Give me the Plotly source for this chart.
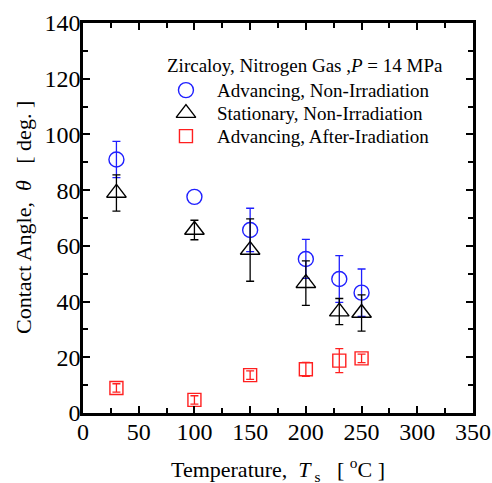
import plotly.graph_objects as go

temps = [30, 100, 150, 200, 230, 250]
adv_non = [91, 77.6, 65.7, 55.3, 48.1, 43.2]
adv_non_err = [6.5, None, 7.8, 7, 8.4, 8.5]   # no visible bar at 100 °C
sta_non = [79, 65.7, 58.5, 46.6, 36.4, 35.9]
sta_non_err = [6.5, 3.5, 11.2, 8, 4.7, 6.5]
adv_aft = [9, 4.7, 13.6, 15.7, 18.8, 19.6]
adv_aft_err = [1.5, 1.5, 1.5, 2.5, 4.3, 1.5]

names = ["Advancing, Non-Irradiation", "Stationary, Non-Irradiation", "Advancing, After-Iradiation"]
legend_title = "Zircaloy, Nitrogen Gas ,<i>P</i> = 14 MPa"
x_title = "Temperature,  <i>T</i><sub> s</sub>   [ <sup>o</sup>C ]"
y_title = "Contact Angle,  <i>θ</i>   [ deg. ]"

FONT = "Liberation Serif"
colors = ["#1f1fff", "black", "#ff1f1f"]
symbols = ["circle-open", "triangle-up-open", "square-open"]
sizes = [15, 17, 13]

fig = go.Figure()
series = [(adv_non, adv_non_err), (sta_non, sta_non_err), (adv_aft, adv_aft_err)]
for i, (vals, errs) in enumerate(series):
    ex = [t for t, e in zip(temps, errs) if e is not None]
    ey = [v for v, e in zip(vals, errs) if e is not None]
    ee = [e for e in errs if e is not None]
    # error bars
    fig.add_trace(go.Scatter(
        x=ex, y=ey, mode="markers", showlegend=False, hoverinfo="skip",
        marker=dict(size=1, opacity=0, color=colors[i]),
        error_y=dict(type="data", array=ee, color=colors[i], thickness=1.3, width=4),
    ))
    # markers
    fig.add_trace(go.Scatter(
        x=temps, y=vals, mode="markers", name=names[i], showlegend=False,
        marker=dict(symbol=symbols[i], size=sizes[i], color=colors[i], line=dict(width=1.4)),
    ))

# legend (manual, to match the tight row spacing)
leg_x_sym = 0.264
leg_x_txt = 0.338
leg_rows = [0.828, 0.769, 0.710]
for i in range(3):
    fig.add_trace(go.Scatter(
        x=[leg_x_sym], y=[leg_rows[i]], xaxis="x2", yaxis="y2", mode="markers",
        showlegend=False, hoverinfo="skip",
        marker=dict(symbol=symbols[i], size=sizes[i], color=colors[i], line=dict(width=1.4)),
    ))
    fig.add_annotation(text=names[i], xref="paper", yref="paper", x=leg_x_txt, y=leg_rows[i],
                       xanchor="left", yanchor="middle", showarrow=False,
                       font=dict(family=FONT, size=19, color="black"))
fig.add_annotation(text=legend_title, xref="paper", yref="paper", x=0.210, y=0.890,
                   xanchor="left", yanchor="middle", showarrow=False,
                   font=dict(family=FONT, size=19, color="black"))

axis_common = dict(
    showline=True, linewidth=2.5, linecolor="black", mirror="allticks",
    ticks="inside", ticklen=7, tickwidth=2, tickcolor="black",
    showgrid=False, zeroline=False, automargin=False,
    tickfont=dict(family=FONT, size=24, color="black"),
)

fig.update_xaxes(
    range=[0, 350], dtick=50, tick0=0, ticklabelstandoff=-5,
    minor=dict(ticks="inside", ticklen=5, tickwidth=2, tickcolor="black", dtick=25),
    **axis_common,
)
fig.update_yaxes(
    range=[0, 140], dtick=20, tick0=0, ticklabelstandoff=-5,
    minor=dict(ticks="inside", ticklen=5, tickwidth=2, tickcolor="black", dtick=10),
    **axis_common,
)

fig.add_annotation(text=x_title, xref="paper", yref="paper", x=0.5, y=0,
                   xanchor="center", yanchor="middle", yshift=-56, showarrow=False,
                   font=dict(family=FONT, size=22, color="black"))
fig.add_annotation(text=y_title, xref="paper", yref="paper", x=0, y=0.5,
                   xanchor="center", yanchor="middle", xshift=-60, textangle=-90,
                   showarrow=False, font=dict(family=FONT, size=22, color="black"))

fig.update_layout(
    width=492, height=483,
    margin=dict(l=83, r=19, t=23, b=70),
    plot_bgcolor="white", paper_bgcolor="white",
    showlegend=False,
    xaxis2=dict(overlaying="x", range=[0, 1], visible=False, fixedrange=True),
    yaxis2=dict(overlaying="y", range=[0, 1], visible=False, fixedrange=True),
)

fig.write_html("out.html")
